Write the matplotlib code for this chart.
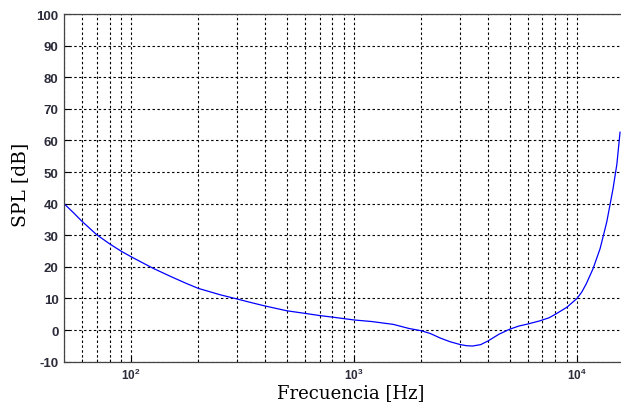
import numpy as np
import matplotlib
matplotlib.use("Agg")
import matplotlib.pyplot as plt
from matplotlib.ticker import FixedLocator, NullFormatter

# threshold of hearing curve
freq = [50, 55, 60, 70, 80, 90, 100, 125, 150, 175, 200, 250, 300, 350, 400,
        500, 600, 700, 800, 1000, 1200, 1500, 1765, 2000, 2200, 2450, 2700,
        3000, 3200, 3400, 3700, 4000, 4470, 5000, 5500, 6000, 6800, 7500,
        8000, 9000, 10000, 10500, 11000, 11800, 12700, 13600, 14500, 15100, 15600]
spl = [40, 37.2, 34.5, 30.2, 27.3, 25, 23.2, 19.6, 17.0, 14.9, 13.2, 11.2, 9.8, 8.6, 7.6,
       6.1, 5.3, 4.6, 4.1, 3.2, 2.7, 1.8, 0.5, -0.2, -1.1, -2.6, -3.7,
       -4.6, -4.95, -5.05, -4.6, -3.4, -1.3, 0.3, 1.3, 1.9, 2.9, 3.9,
       5.0, 7.2, 10, 12.0, 14.6, 19.4, 25.8, 34.2, 44.6, 52.5, 62.6]

major_x = [100, 1000, 10000]
major_labels = ['$\\mathbf{10^{2}}$', '$\\mathbf{10^{3}}$', '$\\mathbf{10^{4}}$']
yticks = list(range(-10, 101, 10))

plt.rcParams['mathtext.fontset'] = 'custom'
plt.rcParams['mathtext.bf'] = 'Liberation Sans:bold'
plt.rcParams['mathtext.rm'] = 'Liberation Sans:bold'

fig = plt.figure(figsize=(6.21, 4.06), dpi=100)
ax = fig.add_axes([0.1031, 0.1067, 0.8993, 0.8563])

ax.plot(freq, spl, color=(0, 0, 1), linewidth=0.9)

ax.set_xscale('log')
ax.set_xlim(50, 16000)
ax.set_ylim(-10, 100)

minor_x = [m * d for d in (10, 100, 1000) for m in range(2, 10) if 50 <= m * d <= 16000]
ax.xaxis.set_major_locator(FixedLocator(major_x))
ax.set_xticklabels(major_labels)
ax.xaxis.set_minor_locator(FixedLocator(minor_x))
ax.xaxis.set_minor_formatter(NullFormatter())
ax.set_yticks(yticks)
ax.set_yticklabels([str(v) for v in yticks])

ax.grid(True, which='both', color='black', linestyle=(0, (2.2, 2.2)), linewidth=0.8)
ax.tick_params(which='both', direction='in', top=False, right=False)
ax.tick_params(which='major', length=4, labelsize=9.5, pad=4, labelcolor='#2b2b3a')
ax.tick_params(axis='x', which='major', labelsize=8.5, pad=3.5)
ax.tick_params(which='minor', length=2)
for lab in ax.get_yticklabels():
    lab.set_fontweight('bold')
    lab.set_family('Liberation Sans')

for s in ax.spines.values():
    s.set_color('#444444')
    s.set_linewidth(0.9)

ax.set_xlabel('Frecuencia [Hz]', family='DejaVu Serif', fontsize=13, va='center')
ax.set_ylabel('SPL [dB]', family='DejaVu Serif', fontsize=13.5, va='center')
ax.xaxis.set_label_coords(0.514, -0.087)
ax.yaxis.set_label_coords(-0.079, 0.511)

fig.savefig('out.png', dpi=100)
